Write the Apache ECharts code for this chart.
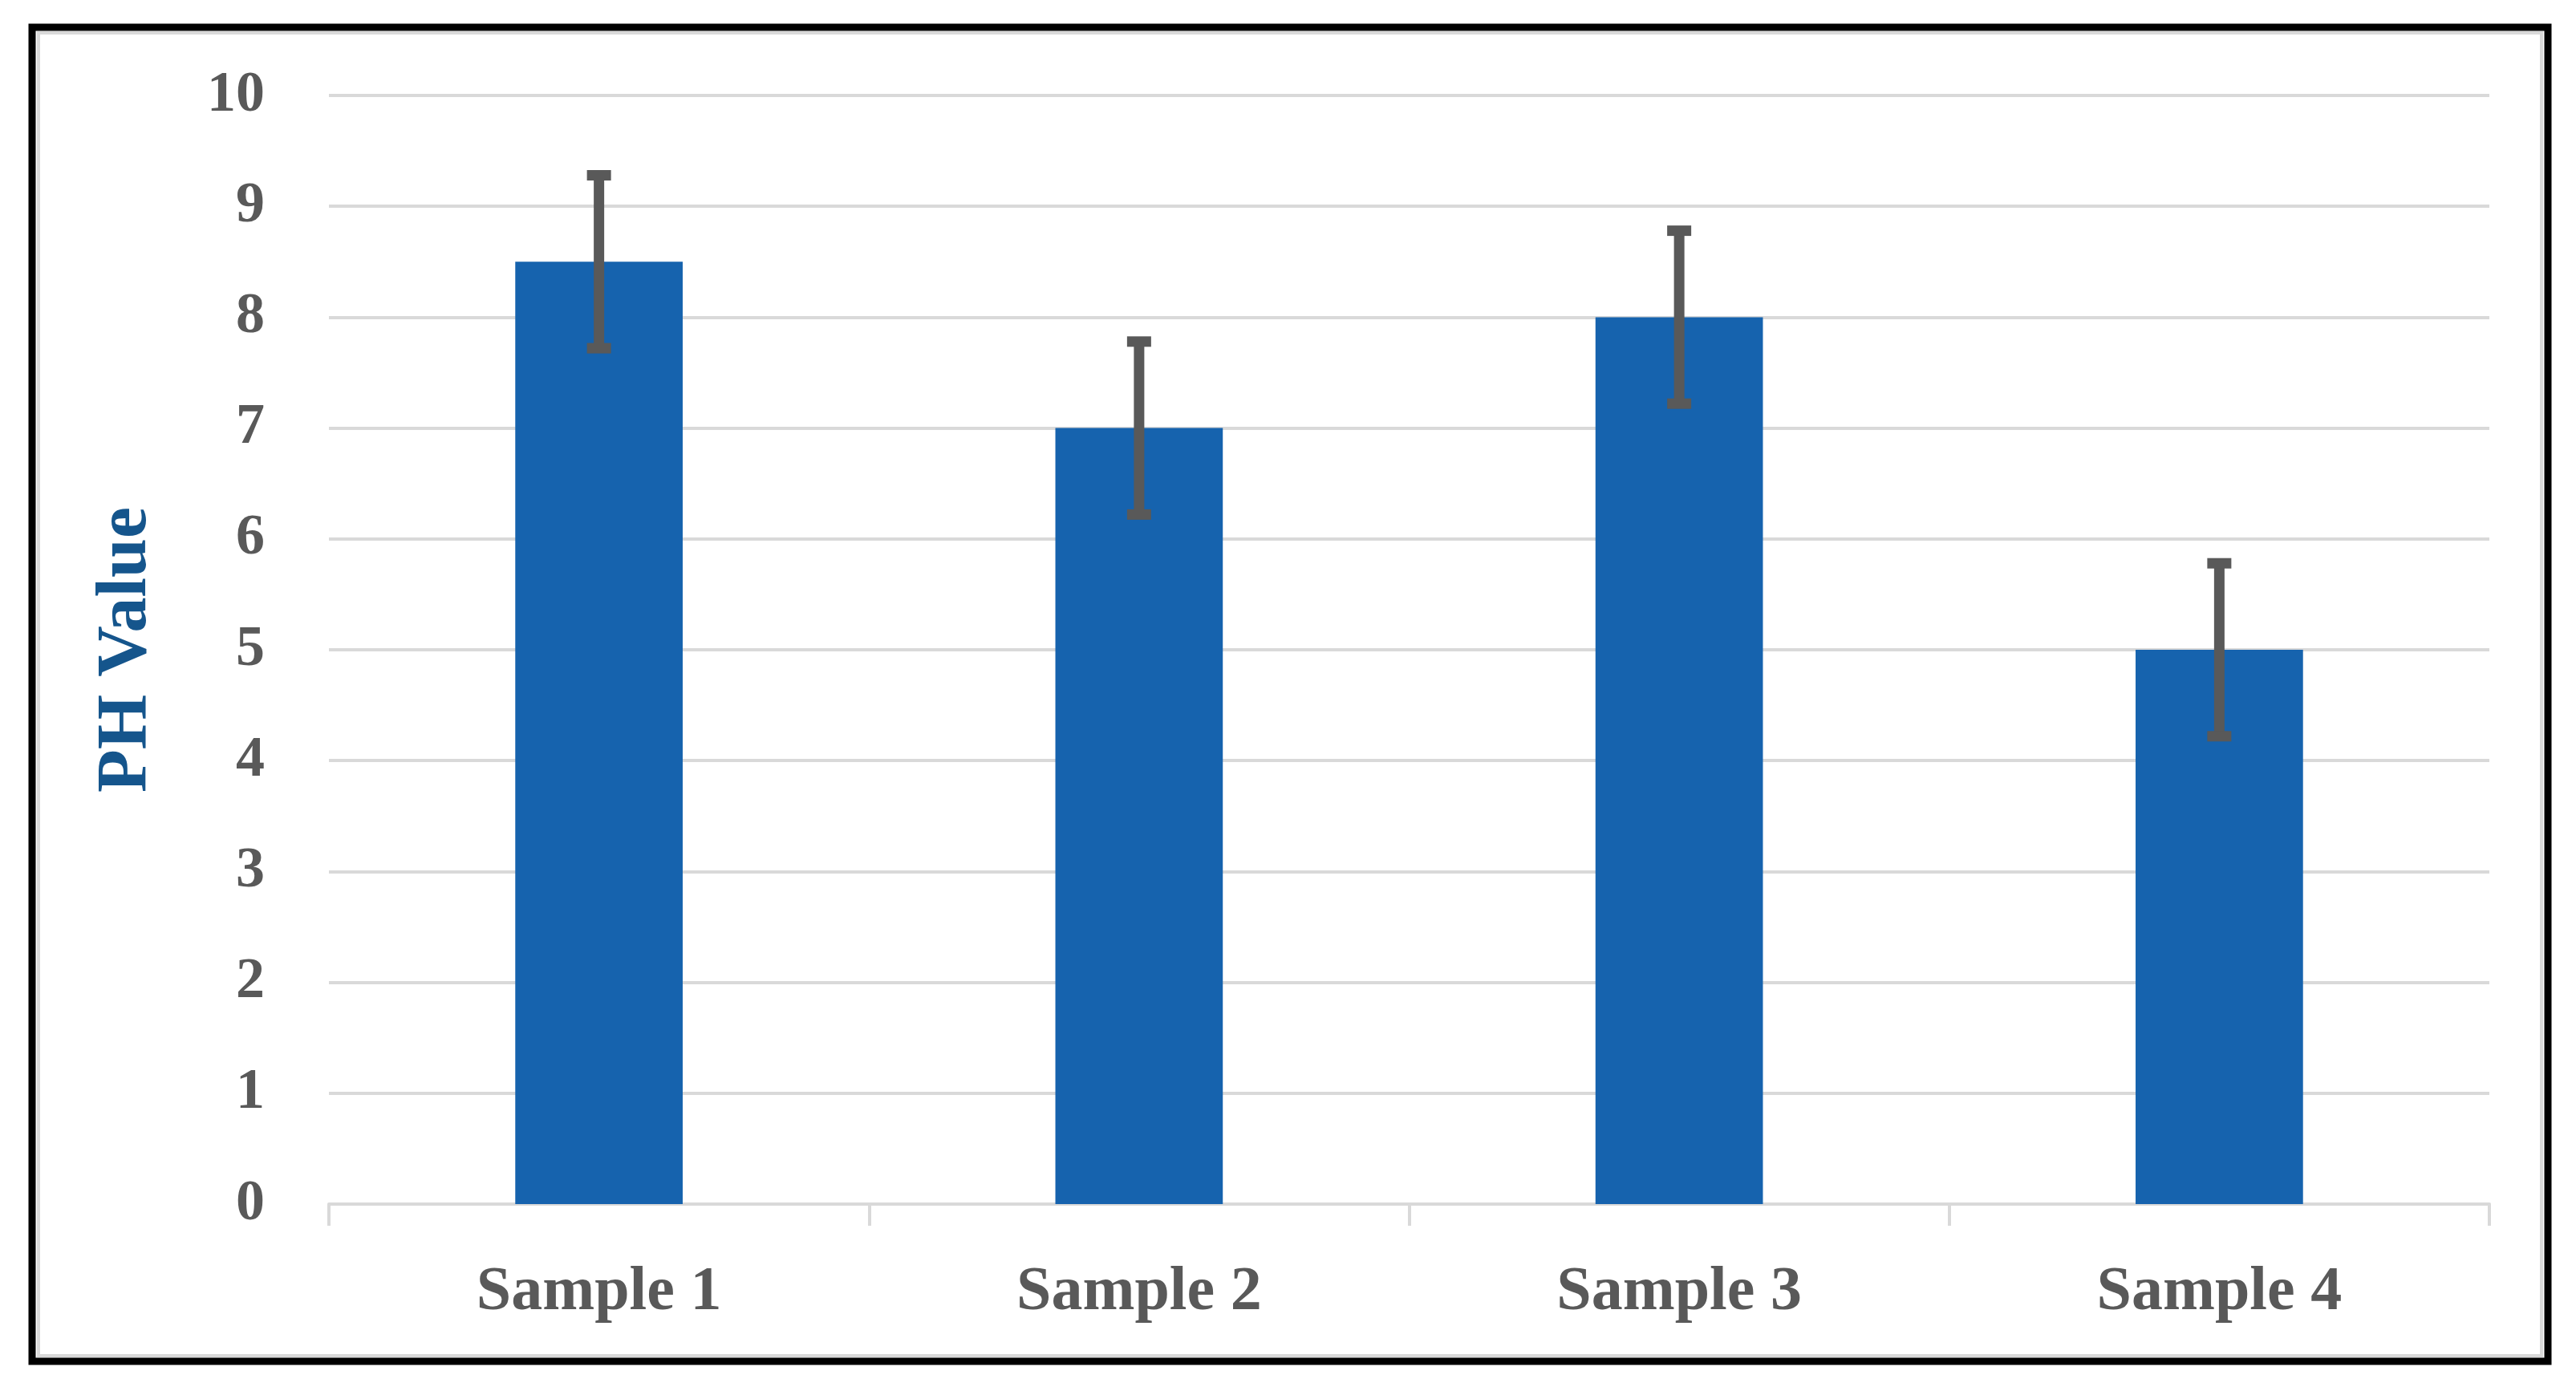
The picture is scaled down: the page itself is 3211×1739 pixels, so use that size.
<!DOCTYPE html>
<html>
<head>
<meta charset="utf-8">
<script src="https://cdn.jsdelivr.net/npm/echarts@6/dist/echarts.min.js"></script>
<style>
html,body{margin:0;padding:0;background:#fff;}
#chart{width:3211px;height:1739px;}
</style>
</head>
<body>
<div id="chart"></div>
<script>
const categories = ['Sample 1', 'Sample 2', 'Sample 3', 'Sample 4'];
const phValues = [8.5, 7, 8, 5];
const phErrors = [0.78, 0.78, 0.78, 0.78];
const yTicks = [0, 1, 2, 3, 4, 5, 6, 7, 8, 9, 10];

const FONT = "'Liberation Serif', 'DejaVu Serif', serif";
const chart = echarts.init(document.getElementById('chart'));

const errData = categories.map((c, i) => [i, phValues[i], phErrors[i]]);

chart.setOption({
  animation: false,
  backgroundColor: '#ffffff',
  graphic: [
    { type: 'rect', shape: { x: 40, y: 34, width: 3136, height: 1663 },
      style: { fill: 'none', stroke: '#000000', lineWidth: 9 }, z: 100 },
    { type: 'rect', shape: { x: 48, y: 41, width: 3120, height: 1649 },
      style: { fill: 'none', stroke: '#d9d9d9', lineWidth: 4 }, z: 99 }
  ],
  grid: { left: 410, right: 108, top: 119, bottom: 238 },
  xAxis: {
    type: 'category',
    data: categories,
    axisLine: { lineStyle: { color: '#d9d9d9', width: 4 } },
    axisTick: { show: true, length: 27, lineStyle: { color: '#d9d9d9', width: 4 } },
    axisLabel: { color: '#595959', fontFamily: FONT, fontWeight: 'bold', fontSize: 78, margin: 72 }
  },
  yAxis: {
    type: 'value',
    min: yTicks[0],
    max: yTicks[yTicks.length - 1],
    interval: 1,
    name: 'PH Value',
    nameLocation: 'middle',
    nameRotate: 90,
    nameGap: 208,
    nameTextStyle: { color: '#15558C', fontFamily: FONT, fontWeight: 'bold', fontSize: 88 },
    axisLine: { show: false },
    axisTick: { show: false },
    axisLabel: { color: '#595959', fontFamily: FONT, fontWeight: 'bold', fontSize: 72, margin: 80 },
    splitLine: { lineStyle: { color: '#d9d9d9', width: 4 } }
  },
  series: [
    {
      type: 'bar',
      data: phValues,
      barWidth: '31%',
      itemStyle: { color: '#1663AE' },
      z: 2
    },
    {
      type: 'custom',
      data: errData,
      z: 5,
      renderItem: function (params, api) {
        const i = api.value(0);
        const v = api.value(1);
        const e = api.value(2);
        const top = api.coord([i, v + e]);
        const bot = api.coord([i, v - e]);
        const x = top[0];
        const half = 15;
        const style = { stroke: '#595959', lineWidth: 13, fill: 'none' };
        return {
          type: 'group',
          children: [
            { type: 'line', shape: { x1: x, y1: top[1], x2: x, y2: bot[1] }, style: style },
            { type: 'line', shape: { x1: x - half, y1: top[1], x2: x + half, y2: top[1] }, style: style },
            { type: 'line', shape: { x1: x - half, y1: bot[1], x2: x + half, y2: bot[1] }, style: style }
          ]
        };
      }
    }
  ]
});
</script>
</body>
</html>
